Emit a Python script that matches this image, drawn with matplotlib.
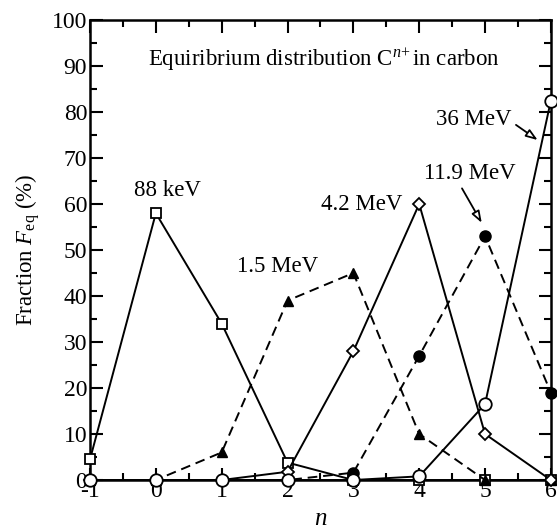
import matplotlib.pyplot as plt
from matplotlib.ticker import MultipleLocator

plt.rcParams["font.family"] = ["Liberation Serif", "DejaVu Serif"]
plt.rcParams["mathtext.fontset"] = "custom"
plt.rcParams["mathtext.rm"] = "Liberation Serif"
plt.rcParams["mathtext.it"] = "Liberation Serif:italic"
plt.rcParams["axes.unicode_minus"] = False

# charge state n and equilibrium fractions (%) for each beam energy
n = [-1, 0, 1, 2, 3, 4, 5, 6]
f_88kev = [4.5, 58, 34, 3.8, 0, 0, 0, 0]
f_1p5mev = [0, 0, 6, 39, 45, 10, 0, 0]
f_4p2mev = [0, 0, 0, 1.8, 28, 60, 10, 0]
f_11p9mev = [0, 0, 0, 0, 1.6, 27, 53, 19]
f_36mev = [0, 0, 0, 0, 0, 0.8, 16.5, 82.5]

fig = plt.figure(figsize=(5.57, 5.32), dpi=100)
ax = fig.add_axes([0.1616, 0.0977, 0.8274, 0.8647])

lw = 1.4
ax.plot(n, f_88kev, "-", color="k", lw=lw, marker="s", ms=7, mfc="white",
        mec="k", mew=1.3, clip_on=False, zorder=3)
ax.plot(n, f_1p5mev, "--", color="k", lw=lw, dashes=(5, 3), marker="^", ms=7,
        mfc="k", mec="k", clip_on=False, zorder=3)
ax.plot(n, f_4p2mev, "-", color="k", lw=lw, marker="D", ms=6.5, mfc="white",
        mec="k", mew=1.3, clip_on=False, zorder=3)
ax.plot(n, f_11p9mev, "--", color="k", lw=lw, dashes=(5, 3), marker="o", ms=8,
        mfc="k", mec="k", clip_on=False, zorder=3)
ax.plot(n, f_36mev, "-", color="k", lw=lw, marker="o", ms=9, mfc="white",
        mec="k", mew=1.3, clip_on=False, zorder=4)

ax.set_xlim(-1, 6)
ax.set_ylim(0, 100)
ax.xaxis.set_major_locator(MultipleLocator(1))
ax.xaxis.set_minor_locator(MultipleLocator(0.5))
ax.yaxis.set_major_locator(MultipleLocator(10))
ax.yaxis.set_minor_locator(MultipleLocator(5))
ax.tick_params(which="both", direction="in", top=True, right=True,
               labelsize=17, width=1.5)
ax.tick_params(axis="x", pad=1)
ax.tick_params(axis="y", pad=2)
ax.tick_params(which="major", length=9)
ax.tick_params(which="minor", length=5)
for sp in ax.spines.values():
    sp.set_linewidth(1.8)

ax.set_xlabel("$n$", fontsize=18, labelpad=4)
ax.set_ylabel("Fraction $F_{\\rm eq}$ (%)", fontsize=16.5, labelpad=7)

fs = 16.5
ax.text(2.56, 91.3, "Equiribrium distribution C$^{n\\!+}$in carbon",
        fontsize=fs, ha="center", va="center")
ax.text(0.18, 63, "88 keV", fontsize=fs, ha="center", va="center")
ax.text(1.85, 46.4, "1.5 MeV", fontsize=fs, ha="center", va="center")
ax.text(3.75, 59.8, "4.2 MeV", fontsize=fs, ha="right", va="center")
ax.text(4.77, 66.7, "11.9 MeV", fontsize=fs, ha="center", va="center")
ax.text(4.83, 78.3, "36 MeV", fontsize=fs, ha="center", va="center")

arrow = dict(arrowstyle="-|>,head_length=0.7,head_width=0.25", color="k",
             lw=1.3, fc="white", shrinkA=0, shrinkB=0)
ax.annotate("", xy=(4.95, 55.9), xytext=(4.65, 63.4), arrowprops=arrow)
ax.annotate("", xy=(5.80, 73.9), xytext=(5.47, 77.2), arrowprops=arrow)

fig.savefig("out.png", dpi=100)
